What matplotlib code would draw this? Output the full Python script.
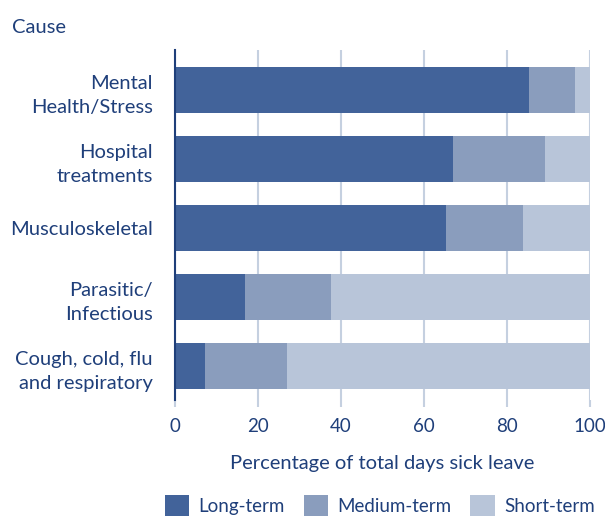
import matplotlib
import matplotlib.pyplot as plt
import numpy as np

matplotlib.use("Agg")

causes = [
    "Mental\nHealth/Stress",
    "Hospital\ntreatments",
    "Musculoskeletal",
    "Parasitic/\nInfectious",
    "Cough, cold, flu\nand respiratory",
]
long_term = [85.3, 67.0, 65.3, 16.9, 7.2]
medium_term = [11.1, 22.2, 18.6, 20.7, 19.8]
short_term = [3.6, 10.8, 16.1, 62.4, 73.0]
series_names = ["Long-term", "Medium-term", "Short-term"]
colors = ["#42639a", "#8a9dbd", "#b8c5d9"]
text_color = "#1f3f7a"

plt.rcParams["font.family"] = ["Lato", "DejaVu Sans"]
fs = 14.5

fig = plt.figure(figsize=(6.05, 5.23), dpi=100)
ax = fig.add_axes([0.289, 0.235, 0.686, 0.669])

y = np.arange(len(causes))
left = np.zeros(len(causes))
for name, values, color in zip(series_names, [long_term, medium_term, short_term], colors):
    ax.barh(y, values, left=left, height=0.67, color=color, label=name, zorder=2)
    left += np.array(values)

ax.set_xlim(0, 100)
ax.set_ylim(4.49, -0.58)
ax.set_yticks(y)
ax.set_yticklabels(causes, fontsize=fs, color=text_color, linespacing=1.55)
ax.set_xticks([0, 20, 40, 60, 80, 100])
ax.tick_params(axis="x", colors="#c5d0e0", labelcolor=text_color, labelsize=13.5,
               length=5, width=1.5, pad=8)
ax.tick_params(axis="y", length=0, pad=16)
for lbl in ax.get_yticklabels():
    lbl.set_horizontalalignment("right")
ax.grid(axis="x", color="#c5d0e0", linewidth=1.5, zorder=0)

for side in ["top", "right", "bottom"]:
    ax.spines[side].set_visible(False)
ax.spines["left"].set_color(text_color)
ax.spines["left"].set_linewidth(1.5)
ax.spines["left"].set_zorder(3)

ax.set_xlabel("Percentage of total days sick leave", fontsize=fs, color=text_color, labelpad=14)
fig.text(0.02, 0.948, "Cause", fontsize=fs, color=text_color, va="center")

fig.legend(loc="lower center", bbox_to_anchor=(0.628, -0.018), ncol=3, frameon=False,
           fontsize=13.5, labelcolor=text_color, handlelength=1.3, handleheight=1.3,
           columnspacing=1.0, handletextpad=0.5)

fig.savefig("out.png", dpi=100)
